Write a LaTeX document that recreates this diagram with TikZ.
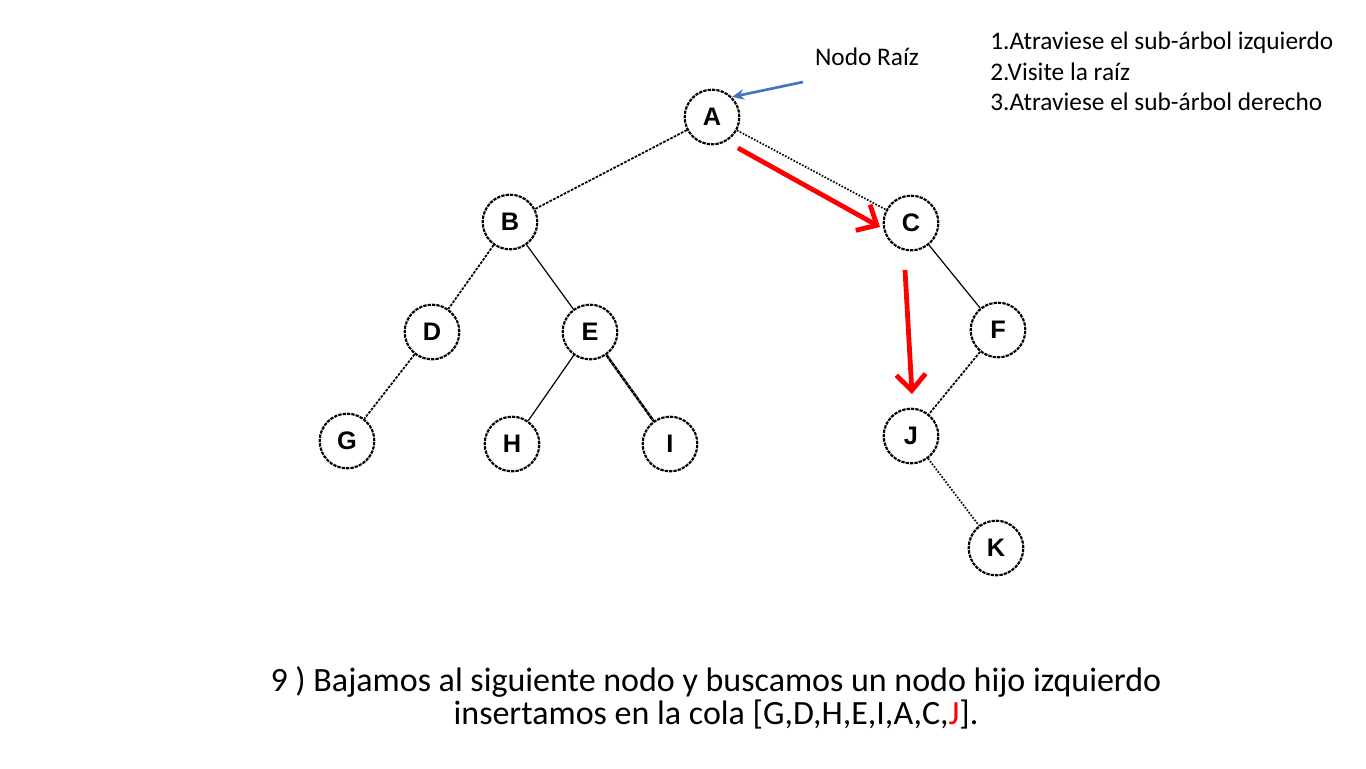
\documentclass[tikz,border=0pt]{standalone}
\usepackage{fontspec}
\setmainfont{Carlito}
\setsansfont{Liberation Sans}
\usetikzlibrary{arrows.meta}
\definecolor{rootblue}{RGB}{68,114,196}
\definecolor{arrred}{RGB}{255,0,0}
\tikzset{
  tnode/.style={circle, draw=black, line width=1.6pt, dash pattern=on 2.5pt off 0.8pt,
    minimum size=41pt, inner sep=0pt, font=\sffamily\bfseries\fontsize{19}{19}\selectfont},
  edgedash/.style={line width=1.3pt, dash pattern=on 2pt off 1pt},
  edgedot/.style={line width=1.3pt, dash pattern=on 1.2pt off 1.2pt},
  edgesolid/.style={line width=0.9pt},
  edgethick/.style={line width=1.9pt, dash pattern=on 3pt off 0.5pt},
  redarrow/.style={draw=arrred, line width=3.6pt, -{Straight Barb[length=12pt,width=22pt,line width=3.6pt]}},
  bluearrow/.style={draw=rootblue, line width=2pt, -{Stealth[length=9pt,width=8pt]}},
  txt/.style={font=\fontsize{19}{22}\selectfont, inner sep=0pt},
  bigtxt/.style={font=\fontsize{25.5}{25}\selectfont, inner sep=0pt, align=center}
}
\begin{document}
\begin{tikzpicture}[x=0.75pt,y=-0.75pt]
\useasboundingbox (0,0) rectangle (1366,768);
\fill[white] (0,0) rectangle (1366,768);
% nodes
\node[tnode] (A) at (712,117) {A};
\node[tnode] (B) at (510,222) {B};
\node[tnode] (C) at (911,223) {C};
\node[tnode] (D) at (432,332) {D};
\node[tnode] (E) at (590,332) {E};
\node[tnode] (F) at (998,330) {F};
\node[tnode] (G) at (347,441) {G};
\node[tnode] (H) at (512,444) {H};
\node[tnode] (I) at (670,444) {I};
\node[tnode] (J) at (911,436) {J};
\node[tnode] (K) at (996,548) {K};
% edges
\draw[edgedash] (A) -- (B);
\draw[edgedot] (A) -- (C);
\draw[edgedash] (B) -- (D);
\draw[edgesolid] (B) -- (E);
\draw[edgedash] (D) -- (G);
\draw[edgesolid] (E) -- (H);
\draw[edgethick] (E) -- (I);
\draw[edgesolid] (C) -- (F);
\draw[edgedash] (F) -- (J);
\draw[edgedot] (J) -- (K);
% red arrows
\coordinate (r1s) at (738,148);
\coordinate (r1e) at (880,227);
\coordinate (r2s) at (905,270);
\coordinate (r2e) at (912,394);
\draw[redarrow] (r1s) -- (r1e);
\draw[redarrow] (r2s) -- (r2e);
% root label
\node[txt] (root) at (867,57) {Nodo Raíz};
\coordinate (b1) at (803,82);
\draw[bluearrow] (b1) -- (A.north east);
% steps
\node[txt, anchor=west] (s1) at (990,43) {1.Atraviese el sub-árbol izquierdo};
\node[txt, anchor=west] (s2) at (990,72) {2.Visite la raíz};
\node[txt, anchor=west] (s3) at (990,102) {3.Atraviese el sub-árbol derecho};
% caption
\node[bigtxt] (cap) at (716,698) {9 ) Bajamos al siguiente nodo y buscamos un nodo hijo izquierdo\\insertamos en la cola [G,D,H,E,I,A,C,\textcolor{arrred}{J}].};
\end{tikzpicture}
\end{document}
